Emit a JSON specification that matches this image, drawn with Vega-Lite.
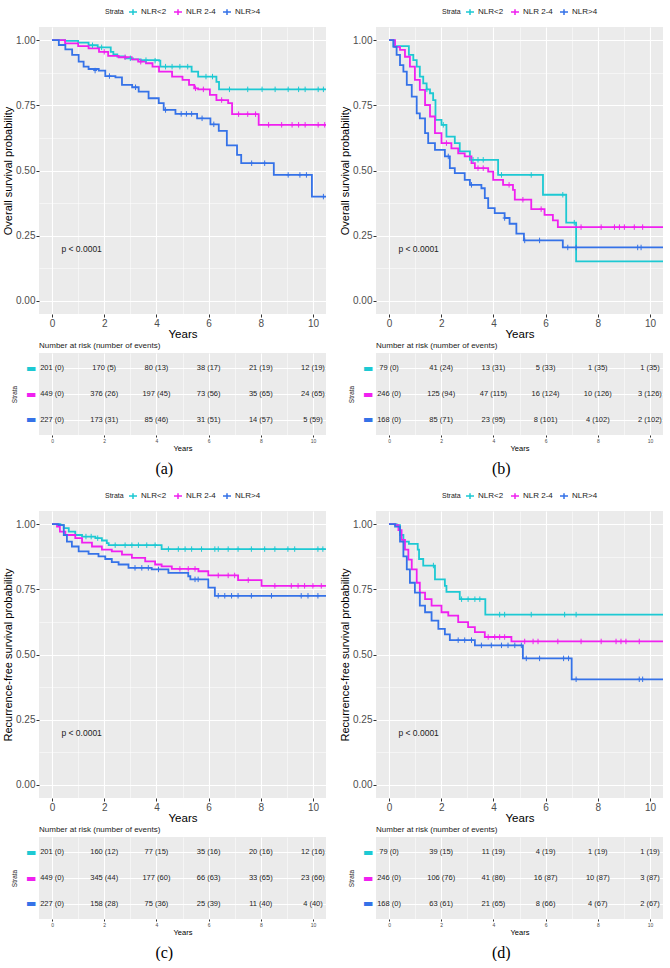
{
"$schema": "https://vega.github.io/schema/vega-lite/v6.json",
"padding": {"left": 2, "top": 7, "right": 0, "bottom": 0},
"background": "white",
"config": {
  "font": "Liberation Sans",
  "view": {"fill": "#EBEBEB", "stroke": null},
  "axis": {"domain": false, "gridColor": "#FFFFFF", "labelColor": "#4D4D4D", "tickColor": "#333333", "titleColor": "#000000", "titleFontWeight": "normal", "labelFont": "Liberation Sans", "titleFont": "Liberation Sans"},
  "legend": {"layout": {"top": {"anchor": "middle"}}},
  "title": {"font": "Liberation Sans", "fontWeight": "normal"}
},
"datasets": {
"km_a": [
{"strata":"NLR<2","t":0,"s":1},{"strata":"NLR<2","t":0.5,"s":0.997},{"strata":"NLR<2","t":1.0,"s":0.99},{"strata":"NLR<2","t":1.4,"s":0.98},{"strata":"NLR<2","t":1.75,"s":0.972},{"strata":"NLR<2","t":2.25,"s":0.955},{"strata":"NLR<2","t":2.35,"s":0.945},{"strata":"NLR<2","t":2.5,"s":0.937},{"strata":"NLR<2","t":2.8,"s":0.93},{"strata":"NLR<2","t":3.1,"s":0.926},{"strata":"NLR<2","t":3.4,"s":0.923},{"strata":"NLR<2","t":4.1,"s":0.921},{"strata":"NLR<2","t":4.15,"s":0.898},{"strata":"NLR<2","t":5.35,"s":0.879},{"strata":"NLR<2","t":5.6,"s":0.86},{"strata":"NLR<2","t":6.3,"s":0.84},{"strata":"NLR<2","t":6.4,"s":0.811},{"strata":"NLR<2","t":10.5,"s":0.811},
{"strata":"NLR 2-4","t":0,"s":1},{"strata":"NLR 2-4","t":0.5,"s":0.987},{"strata":"NLR 2-4","t":1.0,"s":0.977},{"strata":"NLR 2-4","t":1.4,"s":0.968},{"strata":"NLR 2-4","t":1.8,"s":0.955},{"strata":"NLR 2-4","t":2.15,"s":0.939},{"strata":"NLR 2-4","t":2.55,"s":0.934},{"strata":"NLR 2-4","t":3.05,"s":0.926},{"strata":"NLR 2-4","t":3.3,"s":0.917},{"strata":"NLR 2-4","t":3.6,"s":0.911},{"strata":"NLR 2-4","t":3.85,"s":0.898},{"strata":"NLR 2-4","t":4.1,"s":0.879},{"strata":"NLR 2-4","t":4.6,"s":0.86},{"strata":"NLR 2-4","t":5.0,"s":0.847},{"strata":"NLR 2-4","t":5.25,"s":0.828},{"strata":"NLR 2-4","t":5.45,"s":0.815},{"strata":"NLR 2-4","t":5.6,"s":0.811},{"strata":"NLR 2-4","t":6.05,"s":0.79},{"strata":"NLR 2-4","t":6.3,"s":0.77},{"strata":"NLR 2-4","t":6.75,"s":0.758},{"strata":"NLR 2-4","t":6.9,"s":0.716},{"strata":"NLR 2-4","t":7.92,"s":0.675},{"strata":"NLR 2-4","t":10.5,"s":0.675},
{"strata":"NLR>4","t":0,"s":1},{"strata":"NLR>4","t":0.26,"s":0.981},{"strata":"NLR>4","t":0.51,"s":0.964},{"strata":"NLR>4","t":0.77,"s":0.943},{"strata":"NLR>4","t":1.02,"s":0.917},{"strata":"NLR>4","t":1.21,"s":0.898},{"strata":"NLR>4","t":1.4,"s":0.889},{"strata":"NLR>4","t":1.79,"s":0.883},{"strata":"NLR>4","t":2.04,"s":0.862},{"strata":"NLR>4","t":2.43,"s":0.857},{"strata":"NLR>4","t":2.68,"s":0.828},{"strata":"NLR>4","t":3.07,"s":0.819},{"strata":"NLR>4","t":3.32,"s":0.802},{"strata":"NLR>4","t":3.7,"s":0.777},{"strata":"NLR>4","t":4.09,"s":0.758},{"strata":"NLR>4","t":4.28,"s":0.732},{"strata":"NLR>4","t":4.73,"s":0.717},{"strata":"NLR>4","t":5.56,"s":0.70},{"strata":"NLR>4","t":6.07,"s":0.677},{"strata":"NLR>4","t":6.39,"s":0.652},{"strata":"NLR>4","t":6.7,"s":0.596},{"strata":"NLR>4","t":7.09,"s":0.56},{"strata":"NLR>4","t":7.25,"s":0.528},{"strata":"NLR>4","t":8.5,"s":0.483},{"strata":"NLR>4","t":9.96,"s":0.40},{"strata":"NLR>4","t":10.5,"s":0.40}
],
"cens_a": [
{"strata":"NLR<2","t":1.55,"s":0.98},{"strata":"NLR<2","t":1.9,"s":0.972},{"strata":"NLR<2","t":3.0,"s":0.93},{"strata":"NLR<2","t":3.6,"s":0.923},{"strata":"NLR<2","t":3.95,"s":0.921},{"strata":"NLR<2","t":4.35,"s":0.898},{"strata":"NLR<2","t":4.6,"s":0.898},{"strata":"NLR<2","t":4.9,"s":0.898},{"strata":"NLR<2","t":5.2,"s":0.898},{"strata":"NLR<2","t":5.9,"s":0.86},{"strata":"NLR<2","t":6.15,"s":0.86},{"strata":"NLR<2","t":6.8,"s":0.811},{"strata":"NLR<2","t":7.5,"s":0.811},{"strata":"NLR<2","t":8.05,"s":0.811},{"strata":"NLR<2","t":8.55,"s":0.811},{"strata":"NLR<2","t":9.05,"s":0.811},{"strata":"NLR<2","t":9.45,"s":0.811},{"strata":"NLR<2","t":9.7,"s":0.811},{"strata":"NLR<2","t":10.2,"s":0.811},{"strata":"NLR<2","t":10.4,"s":0.811},
{"strata":"NLR 2-4","t":2.0,"s":0.955},{"strata":"NLR 2-4","t":2.8,"s":0.934},{"strata":"NLR 2-4","t":3.4,"s":0.917},{"strata":"NLR 2-4","t":5.5,"s":0.815},{"strata":"NLR 2-4","t":5.8,"s":0.811},{"strata":"NLR 2-4","t":6.5,"s":0.77},{"strata":"NLR 2-4","t":7.15,"s":0.716},{"strata":"NLR 2-4","t":7.5,"s":0.716},{"strata":"NLR 2-4","t":7.8,"s":0.716},{"strata":"NLR 2-4","t":8.3,"s":0.675},{"strata":"NLR 2-4","t":8.8,"s":0.675},{"strata":"NLR 2-4","t":9.2,"s":0.675},{"strata":"NLR 2-4","t":9.45,"s":0.675},{"strata":"NLR 2-4","t":9.7,"s":0.675},{"strata":"NLR 2-4","t":10.2,"s":0.675},{"strata":"NLR 2-4","t":10.45,"s":0.675},
{"strata":"NLR>4","t":1.65,"s":0.883},{"strata":"NLR>4","t":2.2,"s":0.862},{"strata":"NLR>4","t":3.2,"s":0.819},{"strata":"NLR>4","t":4.35,"s":0.732},{"strata":"NLR>4","t":4.95,"s":0.717},{"strata":"NLR>4","t":5.15,"s":0.717},{"strata":"NLR>4","t":5.35,"s":0.717},{"strata":"NLR>4","t":5.75,"s":0.70},{"strata":"NLR>4","t":6.2,"s":0.677},{"strata":"NLR>4","t":7.65,"s":0.528},{"strata":"NLR>4","t":8.15,"s":0.528},{"strata":"NLR>4","t":9.05,"s":0.483},{"strata":"NLR>4","t":9.5,"s":0.483},{"strata":"NLR>4","t":9.75,"s":0.483},{"strata":"NLR>4","t":10.4,"s":0.40}
],
"risk_a": [
{"strata":"NLR<2","t":0,"label":"201 (0)"},{"strata":"NLR<2","t":2,"label":"170 (5)"},{"strata":"NLR<2","t":4,"label":"80 (13)"},{"strata":"NLR<2","t":6,"label":"38 (17)"},{"strata":"NLR<2","t":8,"label":"21 (19)"},{"strata":"NLR<2","t":10,"label":"12 (19)"},
{"strata":"NLR 2-4","t":0,"label":"449 (0)"},{"strata":"NLR 2-4","t":2,"label":"376 (26)"},{"strata":"NLR 2-4","t":4,"label":"197 (45)"},{"strata":"NLR 2-4","t":6,"label":"73 (56)"},{"strata":"NLR 2-4","t":8,"label":"35 (65)"},{"strata":"NLR 2-4","t":10,"label":"24 (65)"},
{"strata":"NLR>4","t":0,"label":"227 (0)"},{"strata":"NLR>4","t":2,"label":"173 (31)"},{"strata":"NLR>4","t":4,"label":"85 (46)"},{"strata":"NLR>4","t":6,"label":"31 (51)"},{"strata":"NLR>4","t":8,"label":"14 (57)"},{"strata":"NLR>4","t":10,"label":"5 (59)"}
],
"km_b": [
{"strata":"NLR<2","t":0,"s":1},{"strata":"NLR<2","t":0.17,"s":0.977},{"strata":"NLR<2","t":0.76,"s":0.943},{"strata":"NLR<2","t":0.93,"s":0.923},{"strata":"NLR<2","t":1.06,"s":0.898},{"strata":"NLR<2","t":1.18,"s":0.86},{"strata":"NLR<2","t":1.31,"s":0.834},{"strata":"NLR<2","t":1.44,"s":0.811},{"strata":"NLR<2","t":1.57,"s":0.796},{"strata":"NLR<2","t":1.69,"s":0.77},{"strata":"NLR<2","t":1.78,"s":0.694},{"strata":"NLR<2","t":2.01,"s":0.675},{"strata":"NLR<2","t":2.2,"s":0.63},{"strata":"NLR<2","t":2.52,"s":0.605},{"strata":"NLR<2","t":2.71,"s":0.573},{"strata":"NLR<2","t":3.1,"s":0.541},{"strata":"NLR<2","t":4.18,"s":0.483},{"strata":"NLR<2","t":5.9,"s":0.407},{"strata":"NLR<2","t":6.79,"s":0.30},{"strata":"NLR<2","t":7.17,"s":0.152},{"strata":"NLR<2","t":10.5,"s":0.152},
{"strata":"NLR 2-4","t":0,"s":1},{"strata":"NLR 2-4","t":0.23,"s":0.974},{"strata":"NLR 2-4","t":0.42,"s":0.962},{"strata":"NLR 2-4","t":0.61,"s":0.936},{"strata":"NLR 2-4","t":0.8,"s":0.898},{"strata":"NLR 2-4","t":0.99,"s":0.847},{"strata":"NLR 2-4","t":1.18,"s":0.809},{"strata":"NLR 2-4","t":1.38,"s":0.751},{"strata":"NLR 2-4","t":1.57,"s":0.707},{"strata":"NLR 2-4","t":1.76,"s":0.643},{"strata":"NLR 2-4","t":2.01,"s":0.605},{"strata":"NLR 2-4","t":2.39,"s":0.585},{"strata":"NLR 2-4","t":2.65,"s":0.566},{"strata":"NLR 2-4","t":2.9,"s":0.554},{"strata":"NLR 2-4","t":3.16,"s":0.528},{"strata":"NLR 2-4","t":3.29,"s":0.509},{"strata":"NLR 2-4","t":3.8,"s":0.496},{"strata":"NLR 2-4","t":3.99,"s":0.464},{"strata":"NLR 2-4","t":4.37,"s":0.445},{"strata":"NLR 2-4","t":4.75,"s":0.426},{"strata":"NLR 2-4","t":4.82,"s":0.388},{"strata":"NLR 2-4","t":5.45,"s":0.352},{"strata":"NLR 2-4","t":5.96,"s":0.33},{"strata":"NLR 2-4","t":6.28,"s":0.309},{"strata":"NLR 2-4","t":6.47,"s":0.283},{"strata":"NLR 2-4","t":10.5,"s":0.283},
{"strata":"NLR>4","t":0,"s":1},{"strata":"NLR>4","t":0.17,"s":0.974},{"strata":"NLR>4","t":0.29,"s":0.943},{"strata":"NLR>4","t":0.42,"s":0.904},{"strata":"NLR>4","t":0.55,"s":0.879},{"strata":"NLR>4","t":0.68,"s":0.828},{"strata":"NLR>4","t":0.87,"s":0.783},{"strata":"NLR>4","t":1.06,"s":0.719},{"strata":"NLR>4","t":1.18,"s":0.70},{"strata":"NLR>4","t":1.38,"s":0.643},{"strata":"NLR>4","t":1.5,"s":0.605},{"strata":"NLR>4","t":1.76,"s":0.579},{"strata":"NLR>4","t":2.14,"s":0.554},{"strata":"NLR>4","t":2.33,"s":0.509},{"strata":"NLR>4","t":2.52,"s":0.49},{"strata":"NLR>4","t":2.9,"s":0.464},{"strata":"NLR>4","t":3.1,"s":0.445},{"strata":"NLR>4","t":3.54,"s":0.432},{"strata":"NLR>4","t":3.67,"s":0.394},{"strata":"NLR>4","t":3.8,"s":0.356},{"strata":"NLR>4","t":4.05,"s":0.337},{"strata":"NLR>4","t":4.43,"s":0.318},{"strata":"NLR>4","t":4.62,"s":0.296},{"strata":"NLR>4","t":4.88,"s":0.258},{"strata":"NLR>4","t":5.17,"s":0.232},{"strata":"NLR>4","t":6.66,"s":0.205},{"strata":"NLR>4","t":10.5,"s":0.205}
],
"cens_b": [
{"strata":"NLR<2","t":1.45,"s":0.811},{"strata":"NLR<2","t":2.08,"s":0.675},{"strata":"NLR<2","t":3.22,"s":0.541},{"strata":"NLR<2","t":3.41,"s":0.541},{"strata":"NLR<2","t":3.61,"s":0.541},{"strata":"NLR<2","t":4.31,"s":0.483},{"strata":"NLR<2","t":5.45,"s":0.483},{"strata":"NLR<2","t":6.66,"s":0.407},{"strata":"NLR<2","t":7.1,"s":0.30},
{"strata":"NLR 2-4","t":2.2,"s":0.605},{"strata":"NLR 2-4","t":3.41,"s":0.509},{"strata":"NLR 2-4","t":3.61,"s":0.509},{"strata":"NLR 2-4","t":4.6,"s":0.445},{"strata":"NLR 2-4","t":5.13,"s":0.388},{"strata":"NLR 2-4","t":5.83,"s":0.352},{"strata":"NLR 2-4","t":7.36,"s":0.283},{"strata":"NLR 2-4","t":8.13,"s":0.283},{"strata":"NLR 2-4","t":8.64,"s":0.283},{"strata":"NLR 2-4","t":8.83,"s":0.283},{"strata":"NLR 2-4","t":9.02,"s":0.283},{"strata":"NLR 2-4","t":9.4,"s":0.283},{"strata":"NLR 2-4","t":9.72,"s":0.283},
{"strata":"NLR>4","t":2.27,"s":0.554},{"strata":"NLR>4","t":3.16,"s":0.445},{"strata":"NLR>4","t":4.43,"s":0.318},{"strata":"NLR>4","t":5.2,"s":0.232},{"strata":"NLR>4","t":5.77,"s":0.232},{"strata":"NLR>4","t":6.85,"s":0.205},{"strata":"NLR>4","t":7.17,"s":0.205},{"strata":"NLR>4","t":9.53,"s":0.205},{"strata":"NLR>4","t":9.66,"s":0.205}
],
"risk_b": [
{"strata":"NLR<2","t":0,"label":"79 (0)"},{"strata":"NLR<2","t":2,"label":"41 (24)"},{"strata":"NLR<2","t":4,"label":"13 (31)"},{"strata":"NLR<2","t":6,"label":"5 (33)"},{"strata":"NLR<2","t":8,"label":"1 (35)"},{"strata":"NLR<2","t":10,"label":"1 (35)"},
{"strata":"NLR 2-4","t":0,"label":"246 (0)"},{"strata":"NLR 2-4","t":2,"label":"125 (94)"},{"strata":"NLR 2-4","t":4,"label":"47 (115)"},{"strata":"NLR 2-4","t":6,"label":"16 (124)"},{"strata":"NLR 2-4","t":8,"label":"10 (126)"},{"strata":"NLR 2-4","t":10,"label":"3 (126)"},
{"strata":"NLR>4","t":0,"label":"168 (0)"},{"strata":"NLR>4","t":2,"label":"85 (71)"},{"strata":"NLR>4","t":4,"label":"23 (95)"},{"strata":"NLR>4","t":6,"label":"8 (101)"},{"strata":"NLR>4","t":8,"label":"4 (102)"},{"strata":"NLR>4","t":10,"label":"2 (102)"}
],
"km_c": [
{"strata":"NLR<2","t":0,"s":1},{"strata":"NLR<2","t":0.32,"s":0.996},{"strata":"NLR<2","t":0.45,"s":0.984},{"strata":"NLR<2","t":0.64,"s":0.971},{"strata":"NLR<2","t":0.89,"s":0.958},{"strata":"NLR<2","t":1.15,"s":0.952},{"strata":"NLR<2","t":1.66,"s":0.946},{"strata":"NLR<2","t":1.91,"s":0.937},{"strata":"NLR<2","t":2.1,"s":0.927},{"strata":"NLR<2","t":2.17,"s":0.919},{"strata":"NLR<2","t":4.2,"s":0.904},{"strata":"NLR<2","t":10.5,"s":0.904},
{"strata":"NLR 2-4","t":0,"s":1},{"strata":"NLR 2-4","t":0.19,"s":0.99},{"strata":"NLR 2-4","t":0.3,"s":0.971},{"strata":"NLR 2-4","t":0.51,"s":0.958},{"strata":"NLR 2-4","t":0.89,"s":0.946},{"strata":"NLR 2-4","t":1.15,"s":0.929},{"strata":"NLR 2-4","t":1.53,"s":0.914},{"strata":"NLR 2-4","t":1.91,"s":0.902},{"strata":"NLR 2-4","t":2.29,"s":0.895},{"strata":"NLR 2-4","t":2.68,"s":0.883},{"strata":"NLR 2-4","t":3.06,"s":0.87},{"strata":"NLR 2-4","t":3.57,"s":0.857},{"strata":"NLR 2-4","t":3.95,"s":0.845},{"strata":"NLR 2-4","t":4.2,"s":0.838},{"strata":"NLR 2-4","t":4.59,"s":0.828},{"strata":"NLR 2-4","t":5.61,"s":0.819},{"strata":"NLR 2-4","t":5.99,"s":0.803},{"strata":"NLR 2-4","t":7.13,"s":0.785},{"strata":"NLR 2-4","t":8.03,"s":0.763},{"strata":"NLR 2-4","t":10.5,"s":0.763},
{"strata":"NLR>4","t":0,"s":1},{"strata":"NLR>4","t":0.25,"s":0.996},{"strata":"NLR>4","t":0.45,"s":0.958},{"strata":"NLR>4","t":0.57,"s":0.933},{"strata":"NLR>4","t":0.76,"s":0.914},{"strata":"NLR>4","t":1.02,"s":0.895},{"strata":"NLR>4","t":1.4,"s":0.886},{"strata":"NLR>4","t":1.78,"s":0.876},{"strata":"NLR>4","t":2.04,"s":0.866},{"strata":"NLR>4","t":2.29,"s":0.854},{"strata":"NLR>4","t":2.55,"s":0.845},{"strata":"NLR>4","t":2.93,"s":0.832},{"strata":"NLR>4","t":3.82,"s":0.826},{"strata":"NLR>4","t":4.46,"s":0.813},{"strata":"NLR>4","t":5.22,"s":0.80},{"strata":"NLR>4","t":5.3,"s":0.788},{"strata":"NLR>4","t":5.99,"s":0.756},{"strata":"NLR>4","t":6.24,"s":0.725},{"strata":"NLR>4","t":10.5,"s":0.725}
],
"cens_c": [
{"strata":"NLR<2","t":1.3,"s":0.952},{"strata":"NLR<2","t":1.5,"s":0.952},{"strata":"NLR<2","t":1.75,"s":0.946},{"strata":"NLR<2","t":2.42,"s":0.919},{"strata":"NLR<2","t":2.8,"s":0.919},{"strata":"NLR<2","t":3.06,"s":0.919},{"strata":"NLR<2","t":3.31,"s":0.919},{"strata":"NLR<2","t":3.63,"s":0.919},{"strata":"NLR<2","t":3.95,"s":0.919},{"strata":"NLR<2","t":4.46,"s":0.904},{"strata":"NLR<2","t":4.84,"s":0.904},{"strata":"NLR<2","t":5.1,"s":0.904},{"strata":"NLR<2","t":5.35,"s":0.904},{"strata":"NLR<2","t":5.73,"s":0.904},{"strata":"NLR<2","t":6.24,"s":0.904},{"strata":"NLR<2","t":6.37,"s":0.904},{"strata":"NLR<2","t":6.75,"s":0.904},{"strata":"NLR<2","t":7.13,"s":0.904},{"strata":"NLR<2","t":7.64,"s":0.904},{"strata":"NLR<2","t":8.15,"s":0.904},{"strata":"NLR<2","t":8.54,"s":0.904},{"strata":"NLR<2","t":9.04,"s":0.904},{"strata":"NLR<2","t":9.3,"s":0.904},{"strata":"NLR<2","t":10.19,"s":0.904},{"strata":"NLR<2","t":10.38,"s":0.904},
{"strata":"NLR 2-4","t":4.9,"s":0.828},{"strata":"NLR 2-4","t":5.22,"s":0.828},{"strata":"NLR 2-4","t":5.48,"s":0.828},{"strata":"NLR 2-4","t":6.37,"s":0.803},{"strata":"NLR 2-4","t":6.75,"s":0.803},{"strata":"NLR 2-4","t":7.0,"s":0.803},{"strata":"NLR 2-4","t":7.52,"s":0.785},{"strata":"NLR 2-4","t":8.54,"s":0.763},{"strata":"NLR 2-4","t":9.17,"s":0.763},{"strata":"NLR 2-4","t":9.43,"s":0.763},{"strata":"NLR 2-4","t":9.68,"s":0.763},{"strata":"NLR 2-4","t":10.0,"s":0.763},{"strata":"NLR 2-4","t":10.32,"s":0.763},
{"strata":"NLR>4","t":3.18,"s":0.832},{"strata":"NLR>4","t":3.44,"s":0.832},{"strata":"NLR>4","t":3.69,"s":0.832},{"strata":"NLR>4","t":4.08,"s":0.826},{"strata":"NLR>4","t":5.48,"s":0.788},{"strata":"NLR>4","t":5.6,"s":0.788},{"strata":"NLR>4","t":6.37,"s":0.725},{"strata":"NLR>4","t":6.62,"s":0.725},{"strata":"NLR>4","t":6.88,"s":0.725},{"strata":"NLR>4","t":7.13,"s":0.725},{"strata":"NLR>4","t":7.64,"s":0.725},{"strata":"NLR>4","t":8.41,"s":0.725},{"strata":"NLR>4","t":9.55,"s":0.725},{"strata":"NLR>4","t":9.81,"s":0.725},{"strata":"NLR>4","t":10.19,"s":0.725}
],
"risk_c": [
{"strata":"NLR<2","t":0,"label":"201 (0)"},{"strata":"NLR<2","t":2,"label":"160 (12)"},{"strata":"NLR<2","t":4,"label":"77 (15)"},{"strata":"NLR<2","t":6,"label":"35 (16)"},{"strata":"NLR<2","t":8,"label":"20 (16)"},{"strata":"NLR<2","t":10,"label":"12 (16)"},
{"strata":"NLR 2-4","t":0,"label":"449 (0)"},{"strata":"NLR 2-4","t":2,"label":"345 (44)"},{"strata":"NLR 2-4","t":4,"label":"177 (60)"},{"strata":"NLR 2-4","t":6,"label":"66 (63)"},{"strata":"NLR 2-4","t":8,"label":"33 (65)"},{"strata":"NLR 2-4","t":10,"label":"23 (66)"},
{"strata":"NLR>4","t":0,"label":"227 (0)"},{"strata":"NLR>4","t":2,"label":"158 (28)"},{"strata":"NLR>4","t":4,"label":"75 (36)"},{"strata":"NLR>4","t":6,"label":"25 (39)"},{"strata":"NLR>4","t":8,"label":"11 (40)"},{"strata":"NLR>4","t":10,"label":"4 (40)"}
],
"km_d": [
{"strata":"NLR<2","t":0,"s":1},{"strata":"NLR<2","t":0.29,"s":0.996},{"strata":"NLR<2","t":0.42,"s":0.958},{"strata":"NLR<2","t":0.55,"s":0.933},{"strata":"NLR<2","t":0.76,"s":0.924},{"strata":"NLR<2","t":1.1,"s":0.902},{"strata":"NLR<2","t":1.15,"s":0.866},{"strata":"NLR<2","t":1.31,"s":0.841},{"strata":"NLR<2","t":1.76,"s":0.788},{"strata":"NLR<2","t":2.14,"s":0.763},{"strata":"NLR<2","t":2.2,"s":0.74},{"strata":"NLR<2","t":2.71,"s":0.712},{"strata":"NLR<2","t":3.69,"s":0.653},{"strata":"NLR<2","t":10.5,"s":0.653},
{"strata":"NLR 2-4","t":0,"s":1},{"strata":"NLR 2-4","t":0.23,"s":0.996},{"strata":"NLR 2-4","t":0.36,"s":0.977},{"strata":"NLR 2-4","t":0.48,"s":0.939},{"strata":"NLR 2-4","t":0.61,"s":0.902},{"strata":"NLR 2-4","t":0.74,"s":0.864},{"strata":"NLR 2-4","t":0.87,"s":0.826},{"strata":"NLR 2-4","t":1.06,"s":0.775},{"strata":"NLR 2-4","t":1.18,"s":0.737},{"strata":"NLR 2-4","t":1.38,"s":0.712},{"strata":"NLR 2-4","t":1.63,"s":0.687},{"strata":"NLR 2-4","t":2.01,"s":0.662},{"strata":"NLR 2-4","t":2.27,"s":0.649},{"strata":"NLR 2-4","t":2.65,"s":0.624},{"strata":"NLR 2-4","t":3.03,"s":0.605},{"strata":"NLR 2-4","t":3.29,"s":0.586},{"strata":"NLR 2-4","t":3.67,"s":0.567},{"strata":"NLR 2-4","t":4.69,"s":0.55},{"strata":"NLR 2-4","t":10.5,"s":0.55},
{"strata":"NLR>4","t":0,"s":1},{"strata":"NLR>4","t":0.23,"s":0.99},{"strata":"NLR>4","t":0.42,"s":0.933},{"strata":"NLR>4","t":0.55,"s":0.876},{"strata":"NLR>4","t":0.68,"s":0.826},{"strata":"NLR>4","t":0.8,"s":0.775},{"strata":"NLR>4","t":0.99,"s":0.737},{"strata":"NLR>4","t":1.18,"s":0.687},{"strata":"NLR>4","t":1.38,"s":0.662},{"strata":"NLR>4","t":1.63,"s":0.63},{"strata":"NLR>4","t":1.89,"s":0.598},{"strata":"NLR>4","t":2.14,"s":0.577},{"strata":"NLR>4","t":2.33,"s":0.555},{"strata":"NLR>4","t":3.29,"s":0.535},{"strata":"NLR>4","t":5.13,"s":0.485},{"strata":"NLR>4","t":7.0,"s":0.405},{"strata":"NLR>4","t":10.5,"s":0.405}
],
"cens_d": [
{"strata":"NLR<2","t":1.7,"s":0.841},{"strata":"NLR<2","t":2.78,"s":0.712},{"strata":"NLR<2","t":3.03,"s":0.712},{"strata":"NLR<2","t":3.29,"s":0.712},{"strata":"NLR<2","t":3.48,"s":0.712},{"strata":"NLR<2","t":4.24,"s":0.653},{"strata":"NLR<2","t":4.43,"s":0.653},{"strata":"NLR<2","t":5.45,"s":0.653},{"strata":"NLR<2","t":6.73,"s":0.653},{"strata":"NLR<2","t":7.17,"s":0.653},
{"strata":"NLR 2-4","t":3.8,"s":0.567},{"strata":"NLR 2-4","t":4.05,"s":0.567},{"strata":"NLR 2-4","t":4.24,"s":0.567},{"strata":"NLR 2-4","t":4.43,"s":0.567},{"strata":"NLR 2-4","t":5.2,"s":0.55},{"strata":"NLR 2-4","t":5.52,"s":0.55},{"strata":"NLR 2-4","t":5.71,"s":0.55},{"strata":"NLR 2-4","t":6.47,"s":0.55},{"strata":"NLR 2-4","t":7.36,"s":0.55},{"strata":"NLR 2-4","t":8.13,"s":0.55},{"strata":"NLR 2-4","t":8.7,"s":0.55},{"strata":"NLR 2-4","t":8.89,"s":0.55},{"strata":"NLR 2-4","t":9.08,"s":0.55},{"strata":"NLR 2-4","t":9.59,"s":0.55},
{"strata":"NLR>4","t":2.65,"s":0.555},{"strata":"NLR>4","t":2.9,"s":0.555},{"strata":"NLR>4","t":3.16,"s":0.555},{"strata":"NLR>4","t":3.54,"s":0.535},{"strata":"NLR>4","t":3.92,"s":0.535},{"strata":"NLR>4","t":4.31,"s":0.535},{"strata":"NLR>4","t":4.56,"s":0.535},{"strata":"NLR>4","t":4.82,"s":0.535},{"strata":"NLR>4","t":5.07,"s":0.535},{"strata":"NLR>4","t":5.26,"s":0.485},{"strata":"NLR>4","t":5.77,"s":0.485},{"strata":"NLR>4","t":6.69,"s":0.485},{"strata":"NLR>4","t":6.88,"s":0.485},{"strata":"NLR>4","t":7.17,"s":0.405},{"strata":"NLR>4","t":9.59,"s":0.405},{"strata":"NLR>4","t":9.72,"s":0.405}
],
"risk_d": [
{"strata":"NLR<2","t":0,"label":"79 (0)"},{"strata":"NLR<2","t":2,"label":"39 (15)"},{"strata":"NLR<2","t":4,"label":"11 (19)"},{"strata":"NLR<2","t":6,"label":"4 (19)"},{"strata":"NLR<2","t":8,"label":"1 (19)"},{"strata":"NLR<2","t":10,"label":"1 (19)"},
{"strata":"NLR 2-4","t":0,"label":"246 (0)"},{"strata":"NLR 2-4","t":2,"label":"106 (76)"},{"strata":"NLR 2-4","t":4,"label":"41 (86)"},{"strata":"NLR 2-4","t":6,"label":"16 (87)"},{"strata":"NLR 2-4","t":8,"label":"10 (87)"},{"strata":"NLR 2-4","t":10,"label":"3 (87)"},
{"strata":"NLR>4","t":0,"label":"168 (0)"},{"strata":"NLR>4","t":2,"label":"63 (61)"},{"strata":"NLR>4","t":4,"label":"21 (65)"},{"strata":"NLR>4","t":6,"label":"8 (66)"},{"strata":"NLR>4","t":8,"label":"4 (67)"},{"strata":"NLR>4","t":10,"label":"2 (67)"}
],
"pval": [{"t": 0.36, "s": 0.2, "label": "p < 0.0001"}]
},
"spacing": 14,
"resolve": {"scale": {"color": "independent"}, "legend": {"color": "independent"}},
"vconcat": [
{"hconcat": [
 {"vconcat": [
  {"width": 287, "height": 287,
   "encoding": {
    "x": {"field": "t", "type": "quantitative", "title": "Years", "scale": {"domain": [-0.5, 10.5], "nice": false, "zero": false}, "axis": {"values": [0,1,2,3,4,5,6,7,8,9,10], "labelExpr": "datum.value % 2 === 0 ? datum.label : ''", "gridWidth": {"condition": {"test": "datum.value % 2 === 1", "value": 0.5}, "value": 1.1}, "tickOpacity": {"condition": {"test": "datum.value % 2 === 1", "value": 0}, "value": 1}, "labelFontSize": 10, "titleFontSize": 11.5, "titlePadding": 0, "labelPadding": 1, "tickSize": 3, "format": "d"}},
    "y": {"field": "s", "type": "quantitative", "title": "Overall survival probability", "scale": {"domain": [-0.05, 1.05], "nice": false, "zero": false}, "axis": {"values": [0,0.125,0.25,0.375,0.5,0.625,0.75,0.875,1], "labelExpr": "(datum.value * 8) % 2 === 0 ? format(datum.value, '.2f') : ''", "gridWidth": {"condition": {"test": "(datum.value * 8) % 2 === 1", "value": 0.5}, "value": 1.1}, "tickOpacity": {"condition": {"test": "(datum.value * 8) % 2 === 1", "value": 0}, "value": 1}, "labelFontSize": 10, "titleFontSize": 11, "titlePadding": 2, "labelPadding": 1, "tickSize": 3}},
    "color": {"field": "strata", "type": "nominal", "scale": {"domain": ["NLR<2", "NLR 2-4", "NLR>4"], "range": ["#1DC9D3", "#F020F0", "#3572E8"]}, "legend": {"title": "Strata", "orient": "top", "direction": "horizontal", "titleOrient": "left", "titleFontSize": 7, "titleFontWeight": "normal", "titleColor": "#222222", "labelFontSize": 8, "labelColor": "#222222", "symbolType": "M-1,0H1M0,-0.7V0.7", "symbolSize": 64, "symbolStrokeWidth": 1.5, "offset": 9, "columnPadding": 4, "titlePadding": 4, "labelOffset": 3}}
   },
   "layer": [
    {"data": {"name": "km_a"}, "mark": {"type": "line", "interpolate": "step-after", "strokeWidth": 1.8, "clip": true}},
    {"data": {"name": "cens_a"}, "mark": {"type": "point", "shape": "M0,-1V1M-0.7,0H0.7", "filled": false, "size": 30, "strokeWidth": 1, "opacity": 1, "clip": true}},
    {"data": {"name": "pval"}, "mark": {"type": "text", "align": "left", "baseline": "middle", "fontSize": 8.5}, "encoding": {"text": {"field": "label"}, "color": {"value": "#222222"}}}
   ]
  },
  {"width": 287, "height": 82, "data": {"name": "risk_a"},
   "title": {"text": "Number at risk (number of events)", "anchor": "start", "frame": "group", "fontSize": 8, "fontWeight": "normal", "color": "#222222", "offset": 3},
   "mark": {"type": "text", "fontSize": 7.5, "color": "#222222"},
   "encoding": {
    "x": {"field": "t", "type": "quantitative", "title": "Years", "scale": {"domain": [-0.5, 10.5], "nice": false, "zero": false}, "axis": {"values": [0,1,2,3,4,5,6,7,8,9,10], "labelExpr": "datum.value % 2 === 0 ? datum.label : ''", "gridWidth": {"condition": {"test": "datum.value % 2 === 1", "value": 0.5}, "value": 1.1}, "tickOpacity": {"condition": {"test": "datum.value % 2 === 1", "value": 0}, "value": 1}, "labelFontSize": 5, "titleFontSize": 7.5, "titlePadding": 1, "labelPadding": 1, "tickSize": 2, "format": "d"}},
    "y": {"field": "strata", "type": "nominal", "title": "Strata", "sort": ["NLR<2", "NLR 2-4", "NLR>4"], "scale": {"type": "point", "padding": 0.6}, "axis": {"grid": true, "gridWidth": 1.1, "labelExpr": "'▬'", "labelFont": "DejaVu Sans", "labelFontSize": 11, "ticks": false, "labelPadding": 3, "titleFontSize": 6.5, "titleColor": "#222222", "titlePadding": 8, "labelColor": {"condition": [{"test": "datum.value === 'NLR<2'", "value": "#1DC9D3"}, {"test": "datum.value === 'NLR 2-4'", "value": "#F020F0"}], "value": "#3572E8"}}},
    "text": {"field": "label", "type": "nominal"}
   }
  }
 ],
 "spacing": 2,
 "title": {"text": "(a)", "orient": "bottom", "anchor": "middle", "font": "Liberation Serif", "fontSize": 16, "fontWeight": "normal", "color": "#000000", "offset": 9, "frame": "bounds"},
 "resolve": {"scale": {"color": "independent"}, "legend": {"color": "independent"}}
 },
 {"vconcat": [
  {"width": 287, "height": 287,
   "encoding": {
    "x": {"field": "t", "type": "quantitative", "title": "Years", "scale": {"domain": [-0.5, 10.5], "nice": false, "zero": false}, "axis": {"values": [0,1,2,3,4,5,6,7,8,9,10], "labelExpr": "datum.value % 2 === 0 ? datum.label : ''", "gridWidth": {"condition": {"test": "datum.value % 2 === 1", "value": 0.5}, "value": 1.1}, "tickOpacity": {"condition": {"test": "datum.value % 2 === 1", "value": 0}, "value": 1}, "labelFontSize": 10, "titleFontSize": 11.5, "titlePadding": 0, "labelPadding": 1, "tickSize": 3, "format": "d"}},
    "y": {"field": "s", "type": "quantitative", "title": "Overall survival probability", "scale": {"domain": [-0.05, 1.05], "nice": false, "zero": false}, "axis": {"values": [0,0.125,0.25,0.375,0.5,0.625,0.75,0.875,1], "labelExpr": "(datum.value * 8) % 2 === 0 ? format(datum.value, '.2f') : ''", "gridWidth": {"condition": {"test": "(datum.value * 8) % 2 === 1", "value": 0.5}, "value": 1.1}, "tickOpacity": {"condition": {"test": "(datum.value * 8) % 2 === 1", "value": 0}, "value": 1}, "labelFontSize": 10, "titleFontSize": 11, "titlePadding": 2, "labelPadding": 1, "tickSize": 3}},
    "color": {"field": "strata", "type": "nominal", "scale": {"domain": ["NLR<2", "NLR 2-4", "NLR>4"], "range": ["#1DC9D3", "#F020F0", "#3572E8"]}, "legend": {"title": "Strata", "orient": "top", "direction": "horizontal", "titleOrient": "left", "titleFontSize": 7, "titleFontWeight": "normal", "titleColor": "#222222", "labelFontSize": 8, "labelColor": "#222222", "symbolType": "M-1,0H1M0,-0.7V0.7", "symbolSize": 64, "symbolStrokeWidth": 1.5, "offset": 9, "columnPadding": 4, "titlePadding": 4, "labelOffset": 3}}
   },
   "layer": [
    {"data": {"name": "km_b"}, "mark": {"type": "line", "interpolate": "step-after", "strokeWidth": 1.8, "clip": true}},
    {"data": {"name": "cens_b"}, "mark": {"type": "point", "shape": "M0,-1V1M-0.7,0H0.7", "filled": false, "size": 30, "strokeWidth": 1, "opacity": 1, "clip": true}},
    {"data": {"name": "pval"}, "mark": {"type": "text", "align": "left", "baseline": "middle", "fontSize": 8.5}, "encoding": {"text": {"field": "label"}, "color": {"value": "#222222"}}}
   ]
  },
  {"width": 287, "height": 82, "data": {"name": "risk_b"},
   "title": {"text": "Number at risk (number of events)", "anchor": "start", "frame": "group", "fontSize": 8, "fontWeight": "normal", "color": "#222222", "offset": 3},
   "mark": {"type": "text", "fontSize": 7.5, "color": "#222222"},
   "encoding": {
    "x": {"field": "t", "type": "quantitative", "title": "Years", "scale": {"domain": [-0.5, 10.5], "nice": false, "zero": false}, "axis": {"values": [0,1,2,3,4,5,6,7,8,9,10], "labelExpr": "datum.value % 2 === 0 ? datum.label : ''", "gridWidth": {"condition": {"test": "datum.value % 2 === 1", "value": 0.5}, "value": 1.1}, "tickOpacity": {"condition": {"test": "datum.value % 2 === 1", "value": 0}, "value": 1}, "labelFontSize": 5, "titleFontSize": 7.5, "titlePadding": 1, "labelPadding": 1, "tickSize": 2, "format": "d"}},
    "y": {"field": "strata", "type": "nominal", "title": "Strata", "sort": ["NLR<2", "NLR 2-4", "NLR>4"], "scale": {"type": "point", "padding": 0.6}, "axis": {"grid": true, "gridWidth": 1.1, "labelExpr": "'▬'", "labelFont": "DejaVu Sans", "labelFontSize": 11, "ticks": false, "labelPadding": 3, "titleFontSize": 6.5, "titleColor": "#222222", "titlePadding": 8, "labelColor": {"condition": [{"test": "datum.value === 'NLR<2'", "value": "#1DC9D3"}, {"test": "datum.value === 'NLR 2-4'", "value": "#F020F0"}], "value": "#3572E8"}}},
    "text": {"field": "label", "type": "nominal"}
   }
  }
 ],
 "spacing": 2,
 "title": {"text": "(b)", "orient": "bottom", "anchor": "middle", "font": "Liberation Serif", "fontSize": 16, "fontWeight": "normal", "color": "#000000", "offset": 9, "frame": "bounds"},
 "resolve": {"scale": {"color": "independent"}, "legend": {"color": "independent"}}
 }
],
"spacing": 13,
"resolve": {"scale": {"color": "independent"}, "legend": {"color": "independent"}}
},
{"hconcat": [
 {"vconcat": [
  {"width": 287, "height": 287,
   "encoding": {
    "x": {"field": "t", "type": "quantitative", "title": "Years", "scale": {"domain": [-0.5, 10.5], "nice": false, "zero": false}, "axis": {"values": [0,1,2,3,4,5,6,7,8,9,10], "labelExpr": "datum.value % 2 === 0 ? datum.label : ''", "gridWidth": {"condition": {"test": "datum.value % 2 === 1", "value": 0.5}, "value": 1.1}, "tickOpacity": {"condition": {"test": "datum.value % 2 === 1", "value": 0}, "value": 1}, "labelFontSize": 10, "titleFontSize": 11.5, "titlePadding": 0, "labelPadding": 1, "tickSize": 3, "format": "d"}},
    "y": {"field": "s", "type": "quantitative", "title": "Recurrence-free survival probability", "scale": {"domain": [-0.05, 1.05], "nice": false, "zero": false}, "axis": {"values": [0,0.125,0.25,0.375,0.5,0.625,0.75,0.875,1], "labelExpr": "(datum.value * 8) % 2 === 0 ? format(datum.value, '.2f') : ''", "gridWidth": {"condition": {"test": "(datum.value * 8) % 2 === 1", "value": 0.5}, "value": 1.1}, "tickOpacity": {"condition": {"test": "(datum.value * 8) % 2 === 1", "value": 0}, "value": 1}, "labelFontSize": 10, "titleFontSize": 11, "titlePadding": 2, "labelPadding": 1, "tickSize": 3}},
    "color": {"field": "strata", "type": "nominal", "scale": {"domain": ["NLR<2", "NLR 2-4", "NLR>4"], "range": ["#1DC9D3", "#F020F0", "#3572E8"]}, "legend": {"title": "Strata", "orient": "top", "direction": "horizontal", "titleOrient": "left", "titleFontSize": 7, "titleFontWeight": "normal", "titleColor": "#222222", "labelFontSize": 8, "labelColor": "#222222", "symbolType": "M-1,0H1M0,-0.7V0.7", "symbolSize": 64, "symbolStrokeWidth": 1.5, "offset": 9, "columnPadding": 4, "titlePadding": 4, "labelOffset": 3}}
   },
   "layer": [
    {"data": {"name": "km_c"}, "mark": {"type": "line", "interpolate": "step-after", "strokeWidth": 1.8, "clip": true}},
    {"data": {"name": "cens_c"}, "mark": {"type": "point", "shape": "M0,-1V1M-0.7,0H0.7", "filled": false, "size": 30, "strokeWidth": 1, "opacity": 1, "clip": true}},
    {"data": {"name": "pval"}, "mark": {"type": "text", "align": "left", "baseline": "middle", "fontSize": 8.5}, "encoding": {"text": {"field": "label"}, "color": {"value": "#222222"}}}
   ]
  },
  {"width": 287, "height": 82, "data": {"name": "risk_c"},
   "title": {"text": "Number at risk (number of events)", "anchor": "start", "frame": "group", "fontSize": 8, "fontWeight": "normal", "color": "#222222", "offset": 3},
   "mark": {"type": "text", "fontSize": 7.5, "color": "#222222"},
   "encoding": {
    "x": {"field": "t", "type": "quantitative", "title": "Years", "scale": {"domain": [-0.5, 10.5], "nice": false, "zero": false}, "axis": {"values": [0,1,2,3,4,5,6,7,8,9,10], "labelExpr": "datum.value % 2 === 0 ? datum.label : ''", "gridWidth": {"condition": {"test": "datum.value % 2 === 1", "value": 0.5}, "value": 1.1}, "tickOpacity": {"condition": {"test": "datum.value % 2 === 1", "value": 0}, "value": 1}, "labelFontSize": 5, "titleFontSize": 7.5, "titlePadding": 1, "labelPadding": 1, "tickSize": 2, "format": "d"}},
    "y": {"field": "strata", "type": "nominal", "title": "Strata", "sort": ["NLR<2", "NLR 2-4", "NLR>4"], "scale": {"type": "point", "padding": 0.6}, "axis": {"grid": true, "gridWidth": 1.1, "labelExpr": "'▬'", "labelFont": "DejaVu Sans", "labelFontSize": 11, "ticks": false, "labelPadding": 3, "titleFontSize": 6.5, "titleColor": "#222222", "titlePadding": 8, "labelColor": {"condition": [{"test": "datum.value === 'NLR<2'", "value": "#1DC9D3"}, {"test": "datum.value === 'NLR 2-4'", "value": "#F020F0"}], "value": "#3572E8"}}},
    "text": {"field": "label", "type": "nominal"}
   }
  }
 ],
 "spacing": 2,
 "title": {"text": "(c)", "orient": "bottom", "anchor": "middle", "font": "Liberation Serif", "fontSize": 16, "fontWeight": "normal", "color": "#000000", "offset": 9, "frame": "bounds"},
 "resolve": {"scale": {"color": "independent"}, "legend": {"color": "independent"}}
 },
 {"vconcat": [
  {"width": 287, "height": 287,
   "encoding": {
    "x": {"field": "t", "type": "quantitative", "title": "Years", "scale": {"domain": [-0.5, 10.5], "nice": false, "zero": false}, "axis": {"values": [0,1,2,3,4,5,6,7,8,9,10], "labelExpr": "datum.value % 2 === 0 ? datum.label : ''", "gridWidth": {"condition": {"test": "datum.value % 2 === 1", "value": 0.5}, "value": 1.1}, "tickOpacity": {"condition": {"test": "datum.value % 2 === 1", "value": 0}, "value": 1}, "labelFontSize": 10, "titleFontSize": 11.5, "titlePadding": 0, "labelPadding": 1, "tickSize": 3, "format": "d"}},
    "y": {"field": "s", "type": "quantitative", "title": "Recurrence-free survival probability", "scale": {"domain": [-0.05, 1.05], "nice": false, "zero": false}, "axis": {"values": [0,0.125,0.25,0.375,0.5,0.625,0.75,0.875,1], "labelExpr": "(datum.value * 8) % 2 === 0 ? format(datum.value, '.2f') : ''", "gridWidth": {"condition": {"test": "(datum.value * 8) % 2 === 1", "value": 0.5}, "value": 1.1}, "tickOpacity": {"condition": {"test": "(datum.value * 8) % 2 === 1", "value": 0}, "value": 1}, "labelFontSize": 10, "titleFontSize": 11, "titlePadding": 2, "labelPadding": 1, "tickSize": 3}},
    "color": {"field": "strata", "type": "nominal", "scale": {"domain": ["NLR<2", "NLR 2-4", "NLR>4"], "range": ["#1DC9D3", "#F020F0", "#3572E8"]}, "legend": {"title": "Strata", "orient": "top", "direction": "horizontal", "titleOrient": "left", "titleFontSize": 7, "titleFontWeight": "normal", "titleColor": "#222222", "labelFontSize": 8, "labelColor": "#222222", "symbolType": "M-1,0H1M0,-0.7V0.7", "symbolSize": 64, "symbolStrokeWidth": 1.5, "offset": 9, "columnPadding": 4, "titlePadding": 4, "labelOffset": 3}}
   },
   "layer": [
    {"data": {"name": "km_d"}, "mark": {"type": "line", "interpolate": "step-after", "strokeWidth": 1.8, "clip": true}},
    {"data": {"name": "cens_d"}, "mark": {"type": "point", "shape": "M0,-1V1M-0.7,0H0.7", "filled": false, "size": 30, "strokeWidth": 1, "opacity": 1, "clip": true}},
    {"data": {"name": "pval"}, "mark": {"type": "text", "align": "left", "baseline": "middle", "fontSize": 8.5}, "encoding": {"text": {"field": "label"}, "color": {"value": "#222222"}}}
   ]
  },
  {"width": 287, "height": 82, "data": {"name": "risk_d"},
   "title": {"text": "Number at risk (number of events)", "anchor": "start", "frame": "group", "fontSize": 8, "fontWeight": "normal", "color": "#222222", "offset": 3},
   "mark": {"type": "text", "fontSize": 7.5, "color": "#222222"},
   "encoding": {
    "x": {"field": "t", "type": "quantitative", "title": "Years", "scale": {"domain": [-0.5, 10.5], "nice": false, "zero": false}, "axis": {"values": [0,1,2,3,4,5,6,7,8,9,10], "labelExpr": "datum.value % 2 === 0 ? datum.label : ''", "gridWidth": {"condition": {"test": "datum.value % 2 === 1", "value": 0.5}, "value": 1.1}, "tickOpacity": {"condition": {"test": "datum.value % 2 === 1", "value": 0}, "value": 1}, "labelFontSize": 5, "titleFontSize": 7.5, "titlePadding": 1, "labelPadding": 1, "tickSize": 2, "format": "d"}},
    "y": {"field": "strata", "type": "nominal", "title": "Strata", "sort": ["NLR<2", "NLR 2-4", "NLR>4"], "scale": {"type": "point", "padding": 0.6}, "axis": {"grid": true, "gridWidth": 1.1, "labelExpr": "'▬'", "labelFont": "DejaVu Sans", "labelFontSize": 11, "ticks": false, "labelPadding": 3, "titleFontSize": 6.5, "titleColor": "#222222", "titlePadding": 8, "labelColor": {"condition": [{"test": "datum.value === 'NLR<2'", "value": "#1DC9D3"}, {"test": "datum.value === 'NLR 2-4'", "value": "#F020F0"}], "value": "#3572E8"}}},
    "text": {"field": "label", "type": "nominal"}
   }
  }
 ],
 "spacing": 2,
 "title": {"text": "(d)", "orient": "bottom", "anchor": "middle", "font": "Liberation Serif", "fontSize": 16, "fontWeight": "normal", "color": "#000000", "offset": 9, "frame": "bounds"},
 "resolve": {"scale": {"color": "independent"}, "legend": {"color": "independent"}}
 }
],
"spacing": 13,
"resolve": {"scale": {"color": "independent"}, "legend": {"color": "independent"}}
}
]
}
